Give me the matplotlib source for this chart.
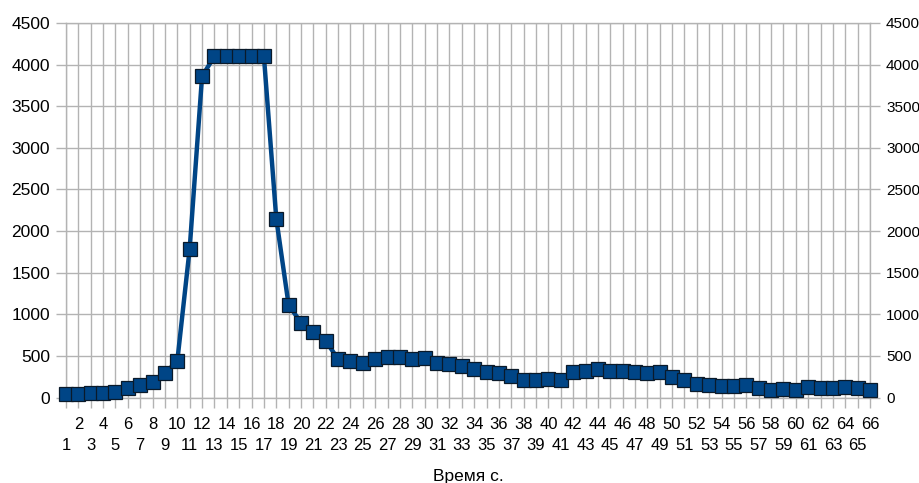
import numpy as np
import matplotlib
matplotlib.use('Agg')
import matplotlib.pyplot as plt

plt.rcParams['font.family'] = ['Liberation Sans', 'DejaVu Sans']

# Time categories (s) and measured values
times = list(range(1, 67))
values = [40, 40, 50, 60, 70, 120, 150, 190, 290, 440,
          1790, 3860, 4100, 4100, 4100, 4100, 4100, 2150, 1110, 900,
          790, 680, 460, 440, 410, 465, 490, 490, 462, 470,
          418, 403, 379, 342, 310, 290, 258, 210, 210, 222,
          210, 310, 318, 338, 318, 318, 302, 298, 302, 250,
          210, 162, 150, 138, 138, 146, 118, 90, 106, 90,
          122, 118, 118, 122, 110, 90]
x_label = 'Время с.'
y_ticks = np.arange(0, 4501, 500)

grid_col = '#b3b3b3'
line_col = '#004586'

fig = plt.figure(figsize=(9.19, 4.83), dpi=100)
ax = fig.add_axes([66 / 919, 1 - 397.5 / 483, 804 / 919, 374.5 / 483])

ax.plot(times, values, color=line_col, linewidth=3.2, marker='s',
        markersize=10, markerfacecolor=line_col, markeredgecolor='#0a1a2a',
        markeredgewidth=0.9, clip_on=False, zorder=3)

ax.set_xlim(1, 66)
ax.set_ylim(0, 4500)
ax.set_yticks(y_ticks)
ax.set_yticklabels([str(v) for v in y_ticks])

# even categories on the upper row, odd ones on the lower row
even_t = [t for t in times if t % 2 == 0]
odd_t = [t for t in times if t % 2 == 1]
ax.set_xticks(even_t)
ax.set_xticklabels([str(t) for t in even_t])
ax.set_xticks(odd_t, minor=True)
ax.set_xticklabels([str(t) for t in odd_t], minor=True)

ax.grid(True, which='both', axis='x', color=grid_col, linewidth=1.0)
ax.grid(True, which='major', axis='y', color=grid_col, linewidth=1.0)
ax.set_axisbelow(True)
for s in ax.spines.values():
    s.set_color(grid_col)
    s.set_linewidth(1.0)

ax.tick_params(axis='x', which='major', length=7, width=1.0, color=grid_col,
               pad=7, labelsize=12, labelcolor='black')
ax.tick_params(axis='x', which='minor', length=7, width=1.0, color=grid_col,
               pad=22.5, labelsize=12, labelcolor='black')
ax.tick_params(axis='y', length=7, width=1.0, color=grid_col, pad=4.5,
               labelsize=12.5, labelcolor='black',
               right=True, labelright=True)
for tk in ax.yaxis.get_major_ticks():
    tk.label2.set_fontsize(11)

ax.set_xlabel(x_label, fontsize=12.5, labelpad=11)

fig.savefig('out.png', dpi=100)
